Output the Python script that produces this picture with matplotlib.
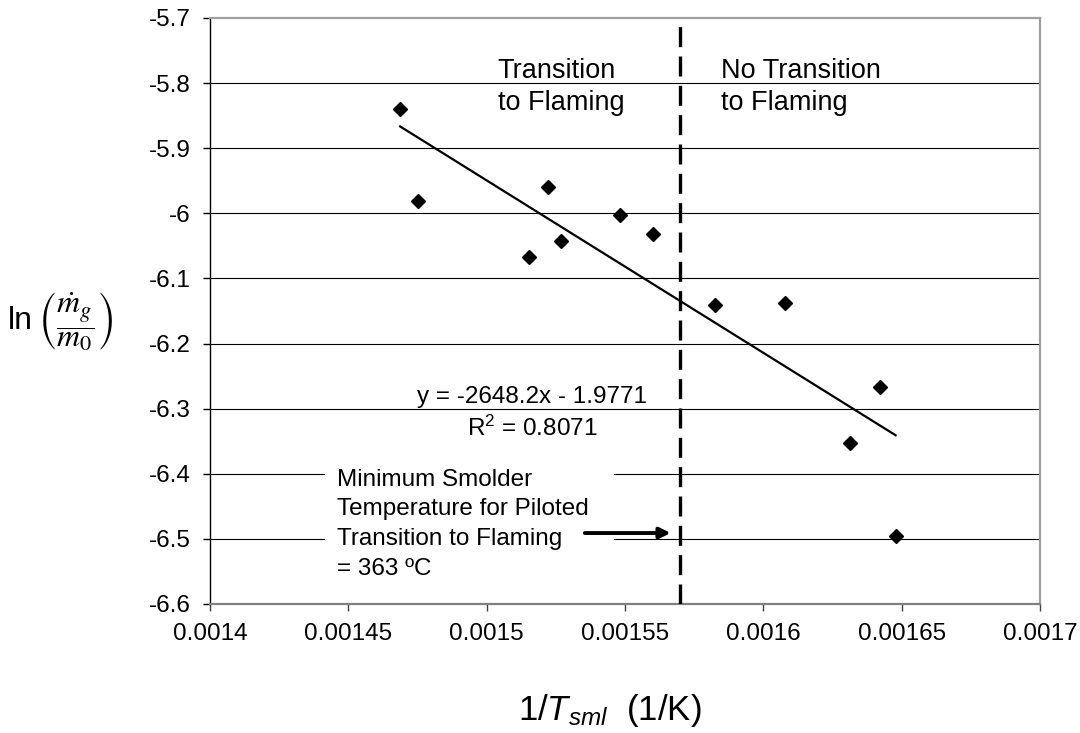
import numpy as np
import matplotlib
matplotlib.use("Agg")
import matplotlib.pyplot as plt
from matplotlib.patches import Rectangle

plt.rcParams['font.family'] = ['Liberation Sans', 'DejaVu Sans']
plt.rcParams['mathtext.fontset'] = 'custom'
plt.rcParams['mathtext.rm'] = 'Liberation Sans'
plt.rcParams['mathtext.it'] = 'Liberation Sans:italic'

# data: 1/T_sml (1/K) and ln(mg/m0)
inv_T = [0.0014687, 0.0014751, 0.0015221, 0.0015153, 0.0015269, 0.0015482,
         0.0015602, 0.0015825, 0.0016079, 0.0016422, 0.0016313, 0.0016478]
ln_m = [-5.840, -5.981, -5.960, -6.067, -6.042, -6.002,
        -6.032, -6.141, -6.137, -6.267, -6.352, -6.496]

slope = -2648.2
intercept = -1.9771
r2 = 0.8071
x_crit = 0.00157   # minimum smolder temperature line

xticks = [0.0014, 0.00145, 0.0015, 0.00155, 0.0016, 0.00165, 0.0017]
xtick_labels = ['0.0014', '0.00145', '0.0015', '0.00155', '0.0016', '0.00165', '0.0017']
yticks = [-5.7, -5.8, -5.9, -6.0, -6.1, -6.2, -6.3, -6.4, -6.5, -6.6]
ytick_labels = ['-5.7', '-5.8', '-5.9', '-6', '-6.1', '-6.2', '-6.3', '-6.4', '-6.5', '-6.6']

fig = plt.figure(figsize=(10.8, 7.33), dpi=100)
ax = fig.add_axes([210/1080, 1-604/733, 830/1080, 586/733])

ax.set_xlim(0.0014, 0.0017)
ax.set_ylim(-6.6, -5.7)

# horizontal gridlines
for yv in yticks[1:-1]:
    ax.axhline(yv, color='black', lw=0.8, zorder=1)

# white box behind the note
ax.add_patch(Rectangle((0.0014416, -6.586), 0.0001043, 0.222,
                       facecolor='white', edgecolor='none', zorder=2))

ax.axvline(x_crit, color='black', lw=2.4, dashes=(6.0, 2.8), zorder=3)

# trend line
xl = np.array([min(inv_T), max(inv_T)])
ax.plot(xl, slope*xl + intercept, color='black', lw=1.6, zorder=4)

ax.plot(inv_T, ln_m, linestyle='none', marker='D', ms=6.8, color='black', zorder=5)

fs = 17.5
ax.text(0.0015040, -5.7622, 'Transition\nto Flaming', fontsize=19.5,
        va='top', ha='left', linespacing=1.3, zorder=6)
ax.text(0.0015847, -5.7622, 'No Transition\nto Flaming', fontsize=19.5,
        va='top', ha='left', linespacing=1.3, zorder=6)
ax.text(0.0015164, -6.2913, 'y = -2648.2x - 1.9771', fontsize=fs,
        va='baseline', ha='center', zorder=6)
ax.text(0.0015164, -6.342, 'R$^2$ = 0.8071', fontsize=fs,
        va='baseline', ha='center', zorder=6)
ax.text(0.0014458, -6.392,
        'Minimum Smolder\nTemperature for Piloted\nTransition to Flaming\n= 363 \u00baC',
        fontsize=fs, va='top', ha='left', linespacing=1.45, zorder=6)

ax.annotate('', xy=(0.0015665, -6.491), xytext=(0.0015355, -6.491),
            arrowprops=dict(arrowstyle='-|>', lw=2.8, color='black',
                            mutation_scale=16, shrinkA=0, shrinkB=0),
            zorder=7)

ax.set_xticks(xticks)
ax.set_xticklabels(xtick_labels)
ax.set_yticks(yticks)
ax.set_yticklabels(ytick_labels)
ax.tick_params(axis='both', labelsize=fs, direction='out', length=5, width=1)
ax.tick_params(axis='x', pad=9, colors='#404040', labelcolor='black')
ax.tick_params(axis='y', pad=9)

ax.spines['left'].set_color('black')
ax.spines['left'].set_linewidth(1.0)
ax.spines['bottom'].set_color('#808080')
ax.spines['bottom'].set_linewidth(1.6)
ax.spines['top'].set_color('#a0a0a0')
ax.spines['top'].set_linewidth(1.6)
ax.spines['right'].set_color('#a0a0a0')
ax.spines['right'].set_linewidth(1.6)

# axis labels
fig.text(610/1080, 1-720/733, '1/$T_{sml}$  (1/K)', fontsize=25,
         ha='center', va='baseline')
fig.text(8/1080, 1-329/733, 'ln', fontsize=23, ha='left', va='baseline')
fig.text(76/1080, 1-322/733, r'$\left(\dfrac{\dot{m}_g}{m_0}\right)$',
         fontsize=23, ha='center', va='center', math_fontfamily='stix')

fig.savefig('out.png', dpi=100)
